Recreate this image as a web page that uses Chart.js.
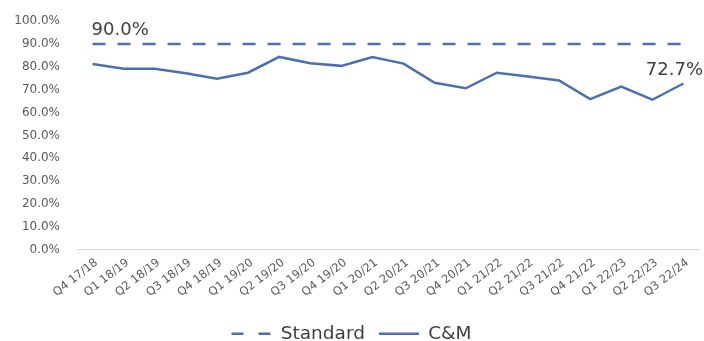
<!DOCTYPE html>
<html>
<head>
<meta charset="utf-8">
<script src="https://cdn.jsdelivr.net/npm/chart.js@4.4.1/dist/chart.umd.min.js"></script>
<style>
  html, body { margin: 0; padding: 0; background: #fff; }
  #wrap { width: 704px; height: 341px; }
</style>
</head>
<body>
<div id="wrap"><canvas id="grafica"></canvas></div>
<script>
// --- Datos ---
const trimestres = [
  'Q4 17/18', 'Q1 18/19', 'Q2 18/19', 'Q3 18/19', 'Q4 18/19',
  'Q1 19/20', 'Q2 19/20', 'Q3 19/20', 'Q4 19/20', 'Q1 20/21',
  'Q2 20/21', 'Q3 20/21', 'Q4 20/21', 'Q1 21/22', 'Q2 21/22',
  'Q3 21/22', 'Q4 21/22', 'Q1 22/23', 'Q2 22/23', 'Q3 22/24'
];
const cmValores = [
  81.2, 79.1, 79.1, 77.2, 74.8,
  77.4, 84.3, 81.5, 80.4, 84.3,
  81.4, 73.0, 70.6, 77.4, 75.8,
  74.0, 65.9, 71.3, 65.6, 72.7
];
const standardValores = [
  90, 90, 90, 90, 90, 90, 90, 90, 90, 90,
  90, 90, 90, 90, 90, 90, 90, 90, 90, 90
];
const yMin = 0, yMax = 100, yPaso = 10;

const azul = '#4a71ad';
const fuente = "'DejaVu Sans', Verdana, sans-serif";

// --- Etiquetas de datos (primer Standard, ultimo C&M) ---
const etiquetasPlugin = {
  id: 'etiquetas',
  afterDatasetsDraw(chart) {
    const ctx = chart.ctx;
    ctx.save();
    ctx.font = '18px ' + fuente;
    ctx.fillStyle = '#404040';
    ctx.textBaseline = 'alphabetic';

    const pStd = chart.getDatasetMeta(0).data[0];
    ctx.textAlign = 'left';
    ctx.fillText(standardValores[0].toFixed(1) + '%', pStd.x - 1, pStd.y - 9);

    const metaCM = chart.getDatasetMeta(1).data;
    const pCM = metaCM[metaCM.length - 1];
    const txt = cmValores[cmValores.length - 1].toFixed(1) + '%';
    const w = ctx.measureText(txt).width;
    let x = pCM.x - w / 2;
    if (x + w > chart.width - 1) x = chart.width - 1 - w;
    ctx.fillText(txt, x, pCM.y - 8);
    ctx.restore();
  }
};

new Chart(document.getElementById('grafica'), {
  type: 'line',
  data: {
    labels: trimestres,
    datasets: [
      {
        label: 'Standard',
        data: standardValores,
        borderColor: azul,
        backgroundColor: azul,
        borderWidth: 2.5,
        borderDash: [13, 12],
        pointRadius: 0,
        tension: 0
      },
      {
        label: 'C&M',
        data: cmValores,
        borderColor: azul,
        backgroundColor: azul,
        borderWidth: 2.5,
        pointRadius: 0,
        tension: 0
      }
    ]
  },
  options: {
    responsive: true,
    maintainAspectRatio: false,
    animation: false,
    layout: { padding: { top: 21, right: 5, left: 4, bottom: -12 } },
    plugins: {
      tooltip: { enabled: false },
      legend: {
        position: 'bottom',
        labels: {
          usePointStyle: true,
          pointStyle: 'line',
          pointStyleWidth: 40,
          color: '#404040',
          padding: 14,
          font: { family: fuente, size: 18.5 },
          // la leyenda por defecto pierde el borderDash con usePointStyle
          generateLabels: (chart) => {
            const items = Chart.defaults.plugins.legend.labels.generateLabels(chart);
            items.forEach(it => {
              const ds = chart.data.datasets[it.datasetIndex];
              it.lineDash = ds.borderDash ? [12, 15] : [];
              it.lineWidth = 2.5;
              it.strokeStyle = azul;
            });
            return items;
          }
        }
      }
    },
    scales: {
      x: {
        offset: true,
        grid: { display: false, drawTicks: false },
        border: { display: true, color: '#d9d9d9', width: 1 },
        afterFit: (s) => { s.height += 5; },
        ticks: {
          color: '#595959',
          font: { family: fuente, size: 11.5 },
          minRotation: 38,
          maxRotation: 38,
          autoSkip: false,
          labelOffset: 4,
          padding: 6
        }
      },
      y: {
        min: yMin,
        max: yMax,
        // marcas ocultas, solo para separar las etiquetas del eje
        grid: { display: false, drawTicks: true, tickLength: 14 },
        border: { display: false },
        afterFit: (s) => { s.width = 73; },
        ticks: {
          stepSize: yPaso,
          color: '#595959',
          font: { family: fuente, size: 12 },
          padding: 3,
          callback: (v) => v.toFixed(1) + '%'
        }
      }
    }
  },
  plugins: [etiquetasPlugin]
});
</script>
</body>
</html>
